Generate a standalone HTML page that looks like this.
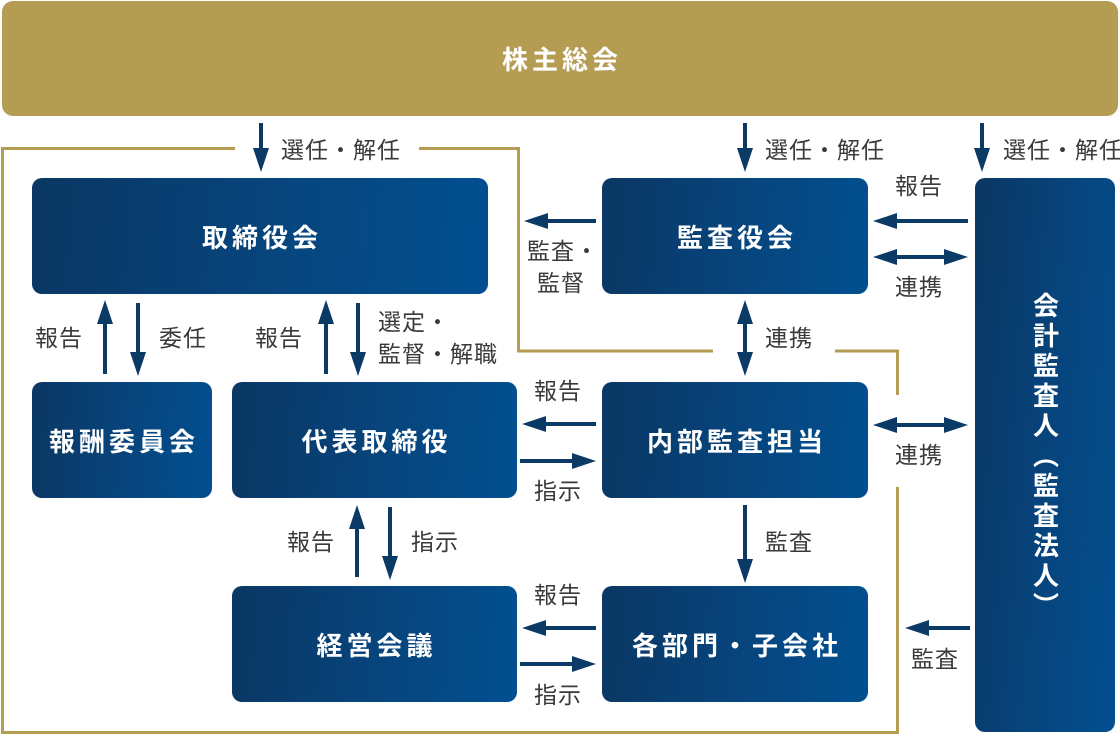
<!DOCTYPE html>
<html lang="ja">
<head>
<meta charset="utf-8">
<style>
  html, body { margin:0; padding:0; }
  body { width:1120px; height:736px; position:relative; overflow:hidden; background:#ffffff;
         font-family:"Liberation Sans","Noto Sans CJK JP",sans-serif; }
  .bar { position:absolute; left:2px; top:1px; width:1116px; height:115px; background:#b59c53;
         border-radius:11px; color:#fff; font-weight:bold; font-size:26px; letter-spacing:4px;
         display:flex; align-items:center; justify-content:center; padding-left:4px; box-sizing:border-box; }
  .box { position:absolute; border-radius:10px; color:#fff; font-weight:bold; font-size:26px;
         letter-spacing:4px; display:flex; align-items:center; justify-content:center;
         padding-left:4px; box-sizing:border-box;
         background:linear-gradient(95deg,#0a3763 0%,#07457e 55%,#014f90 100%); }
  .vbox { writing-mode:vertical-rl; padding-left:0; padding-top:4px; }
  .lb { position:absolute; font-size:23px; letter-spacing:1px; line-height:30px; height:30px;
        color:#3a3a3a; white-space:nowrap; }
  svg { position:absolute; left:0; top:0; }
</style>
</head>
<body>
<div class="bar">株主総会</div>

<svg width="1120" height="736" viewBox="0 0 1120 736">
  <g fill="none" stroke="#b59c53" stroke-width="3">
    <path d="M235,148.5 H2.5 V732.5 H897.5 V487"/>
    <path d="M897.5,395 V351 H835"/>
    <path d="M713,351 H518.5 V148.5 H419"/>
  </g>
  <g stroke="#0c3a66" stroke-width="4" fill="none">
    <line x1="261" y1="123" x2="261" y2="152"/>
    <line x1="745" y1="123" x2="745" y2="152"/>
    <line x1="982" y1="123" x2="982" y2="152"/>
    <line x1="105" y1="374" x2="105" y2="320"/>
    <line x1="138" y1="303" x2="138" y2="356"/>
    <line x1="326" y1="374" x2="326" y2="320"/>
    <line x1="358" y1="303" x2="358" y2="356"/>
    <line x1="745" y1="320" x2="745" y2="356"/>
    <line x1="357" y1="577" x2="357" y2="525"/>
    <line x1="390" y1="507" x2="390" y2="560"/>
    <line x1="745" y1="505" x2="745" y2="563"/>
    <line x1="596" y1="221" x2="544" y2="221"/>
    <line x1="968" y1="221" x2="893" y2="221"/>
    <line x1="893" y1="257" x2="948" y2="257"/>
    <line x1="596" y1="424" x2="542" y2="424"/>
    <line x1="520" y1="461" x2="576" y2="461"/>
    <line x1="893" y1="425" x2="948" y2="425"/>
    <line x1="596" y1="628" x2="542" y2="628"/>
    <line x1="520" y1="664" x2="576" y2="664"/>
    <line x1="970" y1="628" x2="925" y2="628"/>
  </g>
  <g fill="#0c3a66">
    <polygon points="253,148 269,148 261,172"/>
    <polygon points="737,148 753,148 745,172"/>
    <polygon points="974,148 990,148 982,172"/>
    <polygon points="97,324 113,324 105,300"/>
    <polygon points="130,352 146,352 138,376"/>
    <polygon points="318,324 334,324 326,300"/>
    <polygon points="350,352 366,352 358,376"/>
    <polygon points="737,324 753,324 745,300"/>
    <polygon points="737,352 753,352 745,376"/>
    <polygon points="349,529 365,529 357,505"/>
    <polygon points="382,556 398,556 390,580"/>
    <polygon points="737,559 753,559 745,583"/>
    <polygon points="548,213 548,229 524,221"/>
    <polygon points="897,213 897,229 873,221"/>
    <polygon points="897,249 897,265 873,257"/>
    <polygon points="944,249 944,265 968,257"/>
    <polygon points="546,416 546,432 522,424"/>
    <polygon points="572,453 572,469 596,461"/>
    <polygon points="897,417 897,433 873,425"/>
    <polygon points="944,417 944,433 968,425"/>
    <polygon points="546,620 546,636 522,628"/>
    <polygon points="572,656 572,672 596,664"/>
    <polygon points="929,620 929,636 905,628"/>
  </g>
</svg>

<div class="box" style="left:32px;top:178px;width:456px;height:116px;">取締役会</div>
<div class="box" style="left:602px;top:178px;width:266px;height:116px;">監査役会</div>
<div class="box vbox" style="left:975px;top:178px;width:140px;height:554px;">会計監査人（監査法人）</div>
<div class="box" style="left:32px;top:382px;width:180px;height:116px;">報酬委員会</div>
<div class="box" style="left:232px;top:382px;width:285px;height:116px;">代表取締役</div>
<div class="box" style="left:602px;top:382px;width:266px;height:116px;">内部監査担当</div>
<div class="box" style="left:232px;top:586px;width:285px;height:116px;">経営会議</div>
<div class="box" style="left:602px;top:586px;width:266px;height:116px;">各部門・子会社</div>

<div class="lb" style="left:281px;top:135px;">選任・解任</div>
<div class="lb" style="left:765px;top:135px;">選任・解任</div>
<div class="lb" style="left:1003px;top:135px;">選任・解任</div>
<div class="lb" style="left:35px;top:323px;">報告</div>
<div class="lb" style="left:159px;top:323px;">委任</div>
<div class="lb" style="left:255px;top:323px;">報告</div>
<div class="lb" style="left:378px;top:307px;">選定・</div>
<div class="lb" style="left:378px;top:339px;">監督・解職</div>
<div class="lb" style="left:527px;top:236px;">監査・</div>
<div class="lb" style="left:537px;top:268px;">監督</div>
<div class="lb" style="left:895px;top:171px;">報告</div>
<div class="lb" style="left:895px;top:272px;">連携</div>
<div class="lb" style="left:765px;top:323px;">連携</div>
<div class="lb" style="left:534px;top:376px;">報告</div>
<div class="lb" style="left:534px;top:476px;">指示</div>
<div class="lb" style="left:895px;top:440px;">連携</div>
<div class="lb" style="left:765px;top:527px;">監査</div>
<div class="lb" style="left:287px;top:527px;">報告</div>
<div class="lb" style="left:411px;top:527px;">指示</div>
<div class="lb" style="left:534px;top:580px;">報告</div>
<div class="lb" style="left:534px;top:680px;">指示</div>
<div class="lb" style="left:911px;top:644px;">監査</div>
</body>
</html>
